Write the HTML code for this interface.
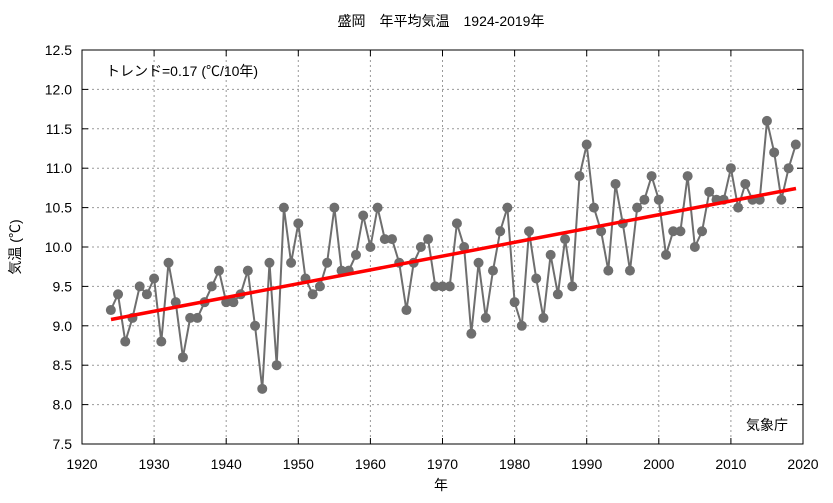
<!DOCTYPE html>
<html><head><meta charset="utf-8"><style>
body{margin:0;background:#fff}
svg text{font-family:"Liberation Sans","Noto Sans CJK JP",sans-serif;font-size:14px;fill:#000}
</style></head><body>
<svg id="c" width="833" height="498" xmlns="http://www.w3.org/2000/svg">
<rect width="833" height="498" fill="#fff"/>
<g id="grid"></g>
<rect x="82" y="50" width="721" height="394" fill="none" stroke="#000" stroke-width="1"/>
<text x="441" y="26" text-anchor="middle" font-size="15">盛岡　年平均気温　1924-2019年</text>
<text x="106" y="76">トレンド=0.17 (℃/10年)</text>
<text x="788" y="430" text-anchor="end">気象庁</text>
<text x="441" y="490" text-anchor="middle">年</text>
<text transform="translate(20,247) rotate(-90)" text-anchor="middle">気温 (℃)</text>
<g id="lab"></g>
<polyline id="ln" fill="none" stroke="#6e6e6e" stroke-width="2"/>
<g id="pts" fill="#6e6e6e"></g>
<line x1="111" y1="319.5" x2="796" y2="188.5" stroke="#f00" stroke-width="3.5"/>
</svg>
<script>
var X=function(y){return 82+(y-1920)*7.21},Y=function(v){return 444-(v-7.5)*78.8};
var ns="http://www.w3.org/2000/svg",g=document.getElementById('grid'),lab=document.getElementById('lab');
function el(p,t,a){var e=document.createElementNS(ns,t);for(var k in a)e.setAttribute(k,a[k]);p.appendChild(e);return e;}
for(var v=7.5;v<=12.51;v+=0.5){var y=Y(v);
 if(v>7.6&&v<12.4)el(g,'line',{x1:82,x2:803,y1:y,y2:y,stroke:'#999','stroke-dasharray':'2,3','stroke-width':1});
 el(g,'line',{x1:82,x2:88,y1:y,y2:y,stroke:'#000'});el(g,'line',{x1:797,x2:803,y1:y,y2:y,stroke:'#000'});
 var t=el(lab,'text',{x:72,y:y+5,'text-anchor':'end'});t.textContent=v.toFixed(1);}
for(var yr=1920;yr<=2020;yr+=10){var x=X(yr);
 if(yr>1920&&yr<2020)el(g,'line',{x1:x,x2:x,y1:50,y2:444,stroke:'#999','stroke-dasharray':'2,3','stroke-width':1});
 el(g,'line',{x1:x,x2:x,y1:444,y2:438,stroke:'#000'});el(g,'line',{x1:x,x2:x,y1:50,y2:56,stroke:'#000'});
 var t=el(lab,'text',{x:x,y:469,'text-anchor':'middle'});t.textContent=yr;}
var d=[9.2,9.4,8.8,9.1,9.5,9.4,9.6,8.8,9.8,9.3,8.6,9.1,9.1,9.3,9.5,9.7,9.3,9.3,9.4,9.7,9.0,8.2,9.8,8.5,10.5,9.8,10.3,9.6,9.4,9.5,9.8,10.5,9.7,9.7,9.9,10.4,10.0,10.5,10.1,10.1,9.8,9.2,9.8,10.0,10.1,9.5,9.5,9.5,10.3,10.0,8.9,9.8,9.1,9.7,10.2,10.5,9.3,9.0,10.2,9.6,9.1,9.9,9.4,10.1,9.5,10.9,11.3,10.5,10.2,9.7,10.8,10.3,9.7,10.5,10.6,10.9,10.6,9.9,10.2,10.2,10.9,10.0,10.2,10.7,10.6,10.6,11.0,10.5,10.8,10.6,10.6,11.6,11.2,10.6,11.0,11.3];
var p=[],pts=document.getElementById('pts');
d.forEach(function(v,i){var x=X(1924+i),y=Y(v);p.push(x.toFixed(1)+','+y.toFixed(1));el(pts,'circle',{cx:x,cy:y,r:5});});
document.getElementById('ln').setAttribute('points',p.join(' '));
</script>
</body></html>
